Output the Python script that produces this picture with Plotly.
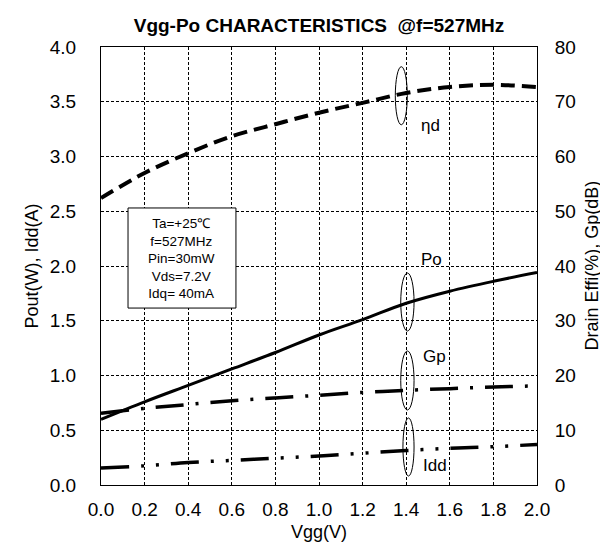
import plotly.graph_objects as go

vgg = [0.0, 0.2, 0.4, 0.6, 0.8, 1.0, 1.2, 1.4, 1.6, 1.8, 2.0]
eta_d = [52.4, 57.0, 60.6, 63.7, 65.9, 68.0, 69.8, 71.6, 72.7, 73.1, 72.7]
po = [0.60, 0.76, 0.91, 1.06, 1.21, 1.37, 1.51, 1.66, 1.77, 1.86, 1.94]
gp = [13.1, 14.0, 14.7, 15.4, 15.9, 16.4, 16.9, 17.3, 17.6, 17.9, 18.1]
idd = [0.155, 0.175, 0.205, 0.225, 0.245, 0.265, 0.29, 0.315, 0.335, 0.35, 0.37]

left_ticks = [0.0, 0.5, 1.0, 1.5, 2.0, 2.5, 3.0, 3.5, 4.0]
right_ticks = [0, 10, 20, 30, 40, 50, 60, 70, 80]
x_ticks = [0.0, 0.2, 0.4, 0.6, 0.8, 1.0, 1.2, 1.4, 1.6, 1.8, 2.0]

cond_lines = ["Ta=+25℃", "f=527MHz", "Pin=30mW", "Vds=7.2V", "Idq= 40mA"]
title = "Vgg-Po CHARACTERISTICS  @f=527MHz"
x_title = "Vgg(V)"
y_title = "Pout(W), Idd(A)"
y2_title = "Drain Effi(%), Gp(dB)"

FONT = "Liberation Sans, Arial, sans-serif"
TICK = 19
AX = 18

fig = go.Figure()
fig.add_trace(go.Scatter(x=vgg, y=eta_d, yaxis="y2", mode="lines", name="ηd",
                         line=dict(color="black", width=4, dash="14px,7px"), line_shape="spline"))
fig.add_trace(go.Scatter(x=vgg, y=po, mode="lines", name="Po",
                         line=dict(color="black", width=3), line_shape="spline"))
fig.add_trace(go.Scatter(x=vgg, y=gp, yaxis="y2", mode="lines", name="Gp",
                         line=dict(color="black", width=3.5, dash="28px,12px,3px,12px"), line_shape="spline"))
fig.add_trace(go.Scatter(x=vgg, y=idd, mode="lines", name="Idd",
                         line=dict(color="black", width=3.5, dash="28px,12px,3px,12px,3px,12px"), line_shape="spline"))

grid = dict(showgrid=True, gridcolor="black", gridwidth=1, griddash="3px,2px",
            showline=True, linecolor="black", linewidth=1, ticks="", zeroline=False,
            tickfont=dict(size=TICK, color="black", family=FONT))

fig.update_layout(
    width=608, height=544,
    margin=dict(l=93, r=79, t=39, b=67),
    paper_bgcolor="white", plot_bgcolor="white",
    showlegend=False,
    font=dict(family=FONT, color="black"),
    title=dict(text="<b>" + title + "</b>", x=0.5, xanchor="center", xref="paper",
               y=1 - 17 / 544, yanchor="middle",
               font=dict(size=19, color="black", family=FONT)),
    xaxis=dict(range=[0, 2.0], tickvals=x_ticks, ticktext=[f"{v:.1f}" for v in x_ticks],
               mirror=True, ticklabelstandoff=7, **grid),
    yaxis=dict(range=[0, 4.0], tickvals=left_ticks, ticktext=[f"{v:.1f}" for v in left_ticks],
               ticklabelstandoff=20, **grid),
    yaxis2=dict(range=[0, 80], tickvals=right_ticks, overlaying="y", side="right",
                showgrid=False, showline=True, linecolor="black", linewidth=1, ticks="",
                zeroline=False, ticklabelstandoff=13,
                tickfont=dict(size=TICK, color="black", family=FONT)),
)

fig.add_annotation(x=0.5, y=0, xref="paper", yref="paper", yshift=-47, text=x_title,
                   showarrow=False, xanchor="center", yanchor="middle", font=dict(size=AX))
fig.add_annotation(x=0, y=0.5, xref="paper", yref="paper", xshift=-69.5, text=y_title,
                   textangle=-90, showarrow=False, xanchor="center", yanchor="middle",
                   font=dict(size=AX))
fig.add_annotation(x=1, y=0.5, xref="paper", yref="paper", xshift=54.5, text=y2_title,
                   textangle=-90, showarrow=False, xanchor="center", yanchor="middle",
                   font=dict(size=AX))

shapes = [
    dict(type="rect", xref="x", yref="y", x0=0.124, x1=0.619, y0=1.616, y1=2.53,
         line=dict(color="black", width=1), fillcolor="white", layer="above"),
    dict(type="circle", xref="x", yref="y", x0=1.35, x1=1.405, y0=3.29, y1=3.82,
         line=dict(color="black", width=1), layer="above"),
    dict(type="circle", xref="x", yref="y", x0=1.375, x1=1.436, y0=1.406, y1=1.936,
         line=dict(color="black", width=1), layer="above"),
    dict(type="circle", xref="x", yref="y", x0=1.375, x1=1.436, y0=0.685, y1=1.224,
         line=dict(color="black", width=1), layer="above"),
    dict(type="circle", xref="x", yref="y", x0=1.385, x1=1.436, y0=0.082, y1=0.612,
         line=dict(color="black", width=1), layer="above"),
]
fig.update_layout(shapes=shapes)

fig.add_annotation(x=0.3715, y=2.073, xref="x", yref="y", text="<br>".join(cond_lines),
                   showarrow=False, align="center", font=dict(size=13.5, color="black", family=FONT))
labels = [("ηd", 1.51, 3.28), ("Po", 1.514, 2.06), ("Gp", 1.53, 1.17), ("Idd", 1.53, 0.18)]
for t, x, y in labels:
    fig.add_annotation(x=x, y=y, xref="x", yref="y", text=t, showarrow=False,
                       font=dict(size=17, color="black", family=FONT))

fig.write_html("out.html")
